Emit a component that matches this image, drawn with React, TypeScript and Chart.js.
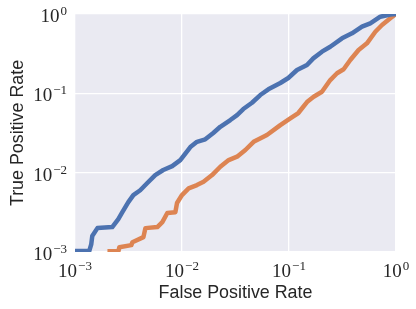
import React, { useEffect, useRef } from "react";
import { Chart, registerables } from "chart.js";
Chart.register(...registerables);

const blueFPR = [0.001, 0.00136, 0.00142, 0.00145, 0.00162, 0.00223, 0.00254, 0.00277, 0.00315, 0.00351, 0.00407, 0.00474, 0.00562, 0.00668, 0.0081, 0.00964, 0.01197, 0.0138, 0.0165, 0.0196, 0.0228, 0.0283, 0.0327, 0.0374, 0.0451, 0.0539, 0.0641, 0.083, 0.0985, 0.1188, 0.1473, 0.1686, 0.2033, 0.243, 0.313, 0.388, 0.481, 0.575, 0.713, 0.885, 1.0];
const blueTPR = [0.00103, 0.00103, 0.00126, 0.00159, 0.002, 0.00206, 0.0026, 0.00318, 0.00426, 0.00522, 0.006, 0.0074, 0.00933, 0.0108, 0.0121, 0.0144, 0.021, 0.0245, 0.0263, 0.0316, 0.0379, 0.0461, 0.0532, 0.0634, 0.0761, 0.0952, 0.1123, 0.1349, 0.156, 0.1967, 0.2275, 0.276, 0.335, 0.387, 0.494, 0.571, 0.692, 0.763, 0.925, 0.986, 1.0];

const orangeFPR = [0.00201, 0.00254, 0.0026, 0.00336, 0.00344, 0.00436, 0.00455, 0.00588, 0.00655, 0.00729, 0.00867, 0.00898, 0.01, 0.01153, 0.0138, 0.0159, 0.0191, 0.0228, 0.0273, 0.0327, 0.0391, 0.0467, 0.0622, 0.083, 0.1028, 0.1222, 0.1473, 0.17, 0.2033, 0.243, 0.281, 0.324, 0.374, 0.447, 0.535, 0.641, 0.74, 0.885, 1.0];
const orangeTPR = [0.00102, 0.00102, 0.00115, 0.00122, 0.00133, 0.00154, 0.002, 0.00206, 0.00238, 0.0031, 0.00318, 0.00414, 0.00522, 0.00634, 0.00698, 0.00768, 0.00933, 0.01187, 0.0144, 0.0159, 0.0193, 0.0245, 0.0298, 0.0398, 0.0484, 0.0565, 0.0777, 0.0906, 0.1047, 0.147, 0.179, 0.201, 0.263, 0.352, 0.427, 0.598, 0.727, 0.883, 1.0];

const xTickExps = [-3, -2, -1, 0];
const yTickExps = [-3, -2, -1, 0];
const xTitle = "False Positive Rate";
const yTitle = "True Positive Rate";

const BLUE = "#4C72B0";
const ORANGE = "#DD8452";

export default function App() {
  const ref = useRef<HTMLCanvasElement>(null);
  useEffect(() => {
    document.body.style.margin = "0";
    const plugin = {
      id: "decor",
      beforeDraw(chart: any) {
        const { ctx, chartArea: a } = chart;
        ctx.save();
        ctx.fillStyle = "#EAEAF2";
        ctx.fillRect(a.left, a.top, a.right - a.left, a.bottom - a.top);
        ctx.restore();
      },
      afterDraw(chart: any) {
        const ctx = chart.ctx;
        const xs = chart.scales.x;
        const ys = chart.scales.y;
        const a = chart.chartArea;
        ctx.save();
        ctx.fillStyle = "#262626";
        ctx.textAlign = "left";
        ctx.textBaseline = "alphabetic";
        const big = '19px "Liberation Serif"';
        const small = '13px "Liberation Serif"';
        const sup = (e: number) => (e === 0 ? "0" : "\u2212" + Math.abs(e));
        xTickExps.forEach((e) => {
          const px = xs.getPixelForValue(Math.pow(10, e));
          ctx.font = big;
          const wb = ctx.measureText("10").width;
          ctx.font = small;
          const ws = ctx.measureText(sup(e)).width;
          const x0 = px - (wb + ws + 1) / 2;
          ctx.font = big;
          ctx.fillText("10", x0, a.bottom + 25);
          ctx.font = small;
          ctx.fillText(sup(e), x0 + wb + 1, a.bottom + 18);
        });
        yTickExps.forEach((e) => {
          const py = ys.getPixelForValue(Math.pow(10, e));
          ctx.font = big;
          const wb = ctx.measureText("10").width;
          ctx.font = small;
          const ws = ctx.measureText(sup(e)).width;
          const x0 = 67 - (wb + ws + 1);
          ctx.font = big;
          ctx.fillText("10", x0, py + 8);
          ctx.font = small;
          ctx.fillText(sup(e), x0 + wb + 1, py + 1);
        });
        ctx.font = '20px "Liberation Sans"';
        const w = ctx.measureText(xTitle).width;
        const size = (20 * 154) / w;
        ctx.font = size.toFixed(2) + 'px "Liberation Sans"';
        ctx.textAlign = "center";
        ctx.fillText(xTitle, (a.left + a.right) / 2, 298);
        ctx.save();
        ctx.translate(22.5, (a.top + a.bottom) / 2);
        ctx.rotate(-Math.PI / 2);
        ctx.fillText(yTitle, 0, 0);
        ctx.restore();
        ctx.restore();
      },
    };

    const decades = (exps: number[]) => (s: any) => {
      s.ticks = exps.map((e) => ({ value: Math.pow(10, e) }));
    };

    const lineStyle = {
      borderWidth: 4.5,
      pointRadius: 0,
      tension: 0,
      fill: false,
      borderJoinStyle: "round" as const,
      borderCapStyle: "butt" as const,
    };

    const chart = new Chart(ref.current!, {
      type: "line",
      data: {
        datasets: [
          {
            data: blueFPR.map((x, i) => ({ x, y: blueTPR[i] })),
            borderColor: BLUE,
            ...lineStyle,
          },
          {
            data: orangeFPR.map((x, i) => ({ x, y: orangeTPR[i] })),
            borderColor: ORANGE,
            ...lineStyle,
          },
        ],
      },
      options: {
        animation: false,
        responsive: false,
        parsing: false as any,
        layout: { padding: { top: 14, right: 20, left: 0, bottom: 0 } },
        plugins: { legend: { display: false }, tooltip: { enabled: false } },
        scales: {
          x: {
            type: "logarithmic",
            min: 0.001,
            max: 1,
            afterBuildTicks: decades(xTickExps),
            afterFit: (s: any) => { s.height = 57; },
            ticks: { display: false },
            grid: { color: "#FFFFFF", lineWidth: 1.3, drawTicks: false },
            border: { display: false },
          },
          y: {
            type: "logarithmic",
            min: 0.001,
            max: 1,
            afterBuildTicks: decades(yTickExps),
            afterFit: (s: any) => { s.width = 75; },
            ticks: { display: false },
            grid: { color: "#FFFFFF", lineWidth: 1.3, drawTicks: false },
            border: { display: false },
          },
        },
      },
      plugins: [plugin],
    });
    return () => chart.destroy();
  }, []);
  return <canvas ref={ref} width={416} height={309} style={{ display: "block" }} />;
}
